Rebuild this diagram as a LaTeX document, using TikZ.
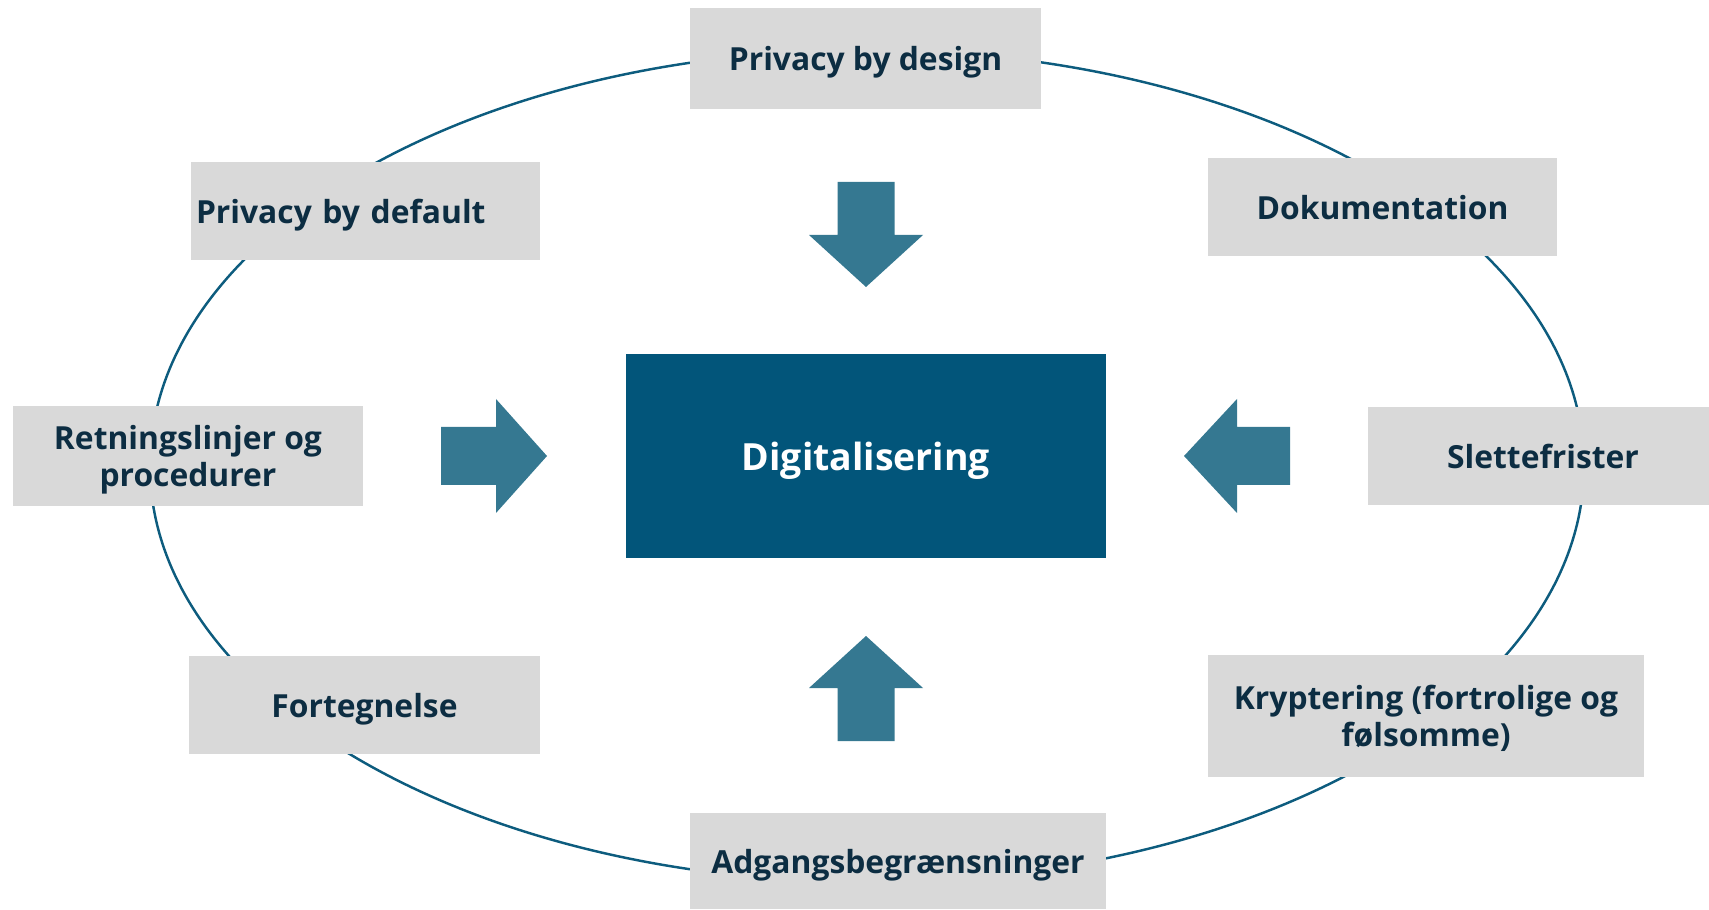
\documentclass[tikz,border=0pt]{standalone}
\usepackage{fontspec}
\setmainfont{Open Sans}
\usepackage{tikz}
\definecolor{boxgray}{HTML}{D9D9D9}
\definecolor{navytext}{HTML}{0C2D42}
\definecolor{digiblue}{HTML}{02557A}
\definecolor{arrowblue}{HTML}{357891}
\definecolor{ringblue}{HTML}{0D5C7E}

\begin{document}
\begin{tikzpicture}[
  emne/.style={rectangle,fill=boxgray,text=navytext,inner sep=0pt,align=center,text depth=0pt,
    font=\fontsize{18.1}{21.3}\selectfont\bfseries,minimum width=7cm,minimum height=2cm},
  pil/.style={fill=arrowblue}
]
\useasboundingbox (0,0) rectangle (34.18,18.18);
%\draw [thick,red,dashed] (0,0) rectangle (34.18,18.18);

% ring
\coordinate (midt) at (17.34,8.86);
\draw [ringblue,line width=1.4pt] (midt) ellipse (14.34 and 8.32);

\node [emne,minimum width=7.02cm,minimum height=2.02cm] (design) at(17.31,17.01){Privacy by design};
\node [emne,text width=6.78cm,align=left,minimum width=6.98cm,minimum height=1.97cm] (default) at(7.31,13.96){Privacy by default};
\node [emne,minimum width=6.98cm,minimum height=1.96cm] (dok) at(27.65,14.04){Dokumentation};

\node [emne] (retn) at(3.76,9.06){Retningslinjer og\\procedurer};
\node [emne,minimum width=7cm,minimum height=1.96cm] (slet) at(30.86,9.06){Slettefrister};

\node [emne,minimum width=7.02cm,minimum height=1.96cm] (forteg) at(7.29,4.08){Fortegnelse};
\node [emne,minimum width=8.72cm,minimum height=2.44cm] (krypt) at(28.52,3.86){Kryptering (fortrolige og\\følsomme)};
\node [emne,minimum width=8.32cm,minimum height=1.92cm] (adgang) at(17.96,0.96){Adgangsbegrænsninger};

\node [rectangle,fill=digiblue,text=white,inner sep=0pt,text depth=0pt,font=\fontsize{21.3}{24}\selectfont\bfseries,
  minimum width=9.6cm,minimum height=4.08cm] (digi) at(17.32,9.06){Digitalisering};

% pile ind mod midten
\fill[pil] (16.75,14.54) -- (17.89,14.54) -- (17.89,13.48) -- (18.46,13.48) -- (17.32,12.44) -- (16.18,13.48) -- (16.75,13.48) -- cycle;
\fill[pil] (8.82,8.48) -- (9.92,8.48) -- (9.92,7.92) -- (10.94,9.06) -- (9.92,10.20) -- (9.92,9.64) -- (8.82,9.64) -- cycle;
\fill[pil] (25.8,8.48) -- (24.74,8.48) -- (24.74,7.92) -- (23.68,9.06) -- (24.74,10.20) -- (24.74,9.64) -- (25.8,9.64) -- cycle;
\fill[pil] (16.75,3.36) -- (17.89,3.36) -- (17.89,4.42) -- (18.46,4.42) -- (17.32,5.46) -- (16.18,4.42) -- (16.75,4.42) -- cycle;
\end{tikzpicture}
\end{document}
